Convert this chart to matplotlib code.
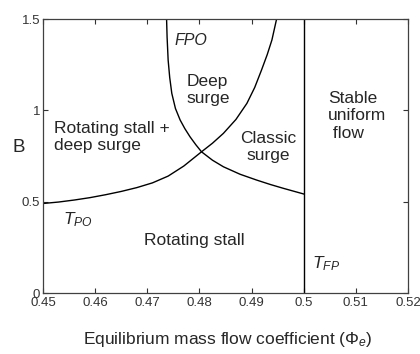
import matplotlib
matplotlib.use('Agg')
import matplotlib.pyplot as plt

plt.rcParams['font.family'] = ['Liberation Sans', 'DejaVu Sans']
plt.rcParams['mathtext.fontset'] = 'custom'
plt.rcParams['mathtext.it'] = 'Liberation Sans:italic'
plt.rcParams['mathtext.rm'] = 'Liberation Sans'

# T_PO boundary
phi_tpo = [0.450, 0.453, 0.456, 0.459, 0.462, 0.465, 0.468, 0.471, 0.474, 0.477,
           0.4804, 0.4825, 0.4846, 0.487, 0.4891, 0.4906, 0.4919, 0.493, 0.4939, 0.4948]
B_tpo = [0.490, 0.498, 0.509, 0.522, 0.538, 0.556, 0.577, 0.603, 0.640, 0.695,
         0.773, 0.820, 0.874, 0.950, 1.038, 1.125, 1.22, 1.305, 1.385, 1.50]

# FPO boundary
phi_fpo = [0.4737, 0.4738, 0.4740, 0.4743, 0.4747, 0.4754, 0.4763, 0.4772, 0.4782, 0.4793,
           0.4804, 0.4825, 0.4846, 0.4878, 0.4910, 0.4936, 0.4961, 0.5000]
B_fpo = [1.50, 1.40, 1.275, 1.18, 1.093, 1.01, 0.947, 0.90, 0.855, 0.812,
         0.773, 0.727, 0.691, 0.650, 0.618, 0.594, 0.573, 0.542]

# T_FP boundary
phi_tfp = [0.5, 0.5]
B_tfp = [0.0, 1.5]

xticks = [0.45, 0.46, 0.47, 0.48, 0.49, 0.5, 0.51, 0.52]
xticklabels = ['0.45', '0.46', '0.47', '0.48', '0.49', '0.5', '0.51', '0.52']
yticks = [0, 0.5, 1, 1.5]
yticklabels = ['0', '0.5', '1', '1.5']

fig = plt.figure(figsize=(4.2, 3.54), dpi=100)
ax = fig.add_axes([43/420, 1 - 293/354, 365/420, 274/354])

ax.plot(phi_tpo, B_tpo, color='black', lw=1.0)
ax.plot(phi_fpo, B_fpo, color='black', lw=1.0)
ax.plot(phi_tfp, B_tfp, color='black', lw=1.0)

ax.set_xlim(0.45, 0.52)
ax.set_ylim(0, 1.5)
ax.set_xticks(xticks)
ax.set_xticklabels(xticklabels)
ax.set_yticks(yticks)
ax.set_yticklabels(yticklabels)
ax.tick_params(direction='in', length=3.5, width=0.8, top=True, right=True,
               labelsize=9.5, colors='#333333', pad=3)
ax.tick_params(axis='y', pad=2)
for s in ax.spines.values():
    s.set_color('#404040')
    s.set_linewidth(0.9)

tc = '#262626'
fs = 12.5
ax.set_xlabel(r'Equilibrium mass flow coefficient ($\Phi_e$)', fontsize=fs, color=tc)
ax.xaxis.set_label_coords(0.507, -0.135)
ax.set_ylabel('B', fontsize=13.5, rotation=0, color=tc, va='center', ha='center')
ax.yaxis.set_label_coords(-0.066, 0.53)

ax.text(0.4521, 0.854, 'Rotating stall +\ndeep surge', fontsize=fs, color=tc,
        ha='left', va='center', linespacing=1.2)
ax.text(0.4816, 1.11, 'Deep\nsurge', fontsize=fs, color=tc, ha='center', va='center',
        linespacing=1.2)
ax.text(0.4932, 0.80, 'Classic\nsurge', fontsize=fs, color=tc, ha='center', va='center',
        linespacing=1.2)
ax.text(0.5046, 0.969, 'Stable\nuniform\n flow', fontsize=fs, color=tc, ha='left',
        va='center', linespacing=1.2)
ax.text(0.4790, 0.29, 'Rotating stall', fontsize=fs, color=tc, ha='center', va='center')
ax.text(0.4753, 1.385, 'FPO', fontsize=11.5, color=tc, style='italic', ha='left', va='center')
ax.text(0.4538, 0.40, r'$T_{PO}$', fontsize=fs, color=tc, ha='left', va='center')
ax.text(0.5016, 0.16, r'$T_{FP}$', fontsize=fs, color=tc, ha='left', va='center')

fig.savefig('out.png', dpi=100)
